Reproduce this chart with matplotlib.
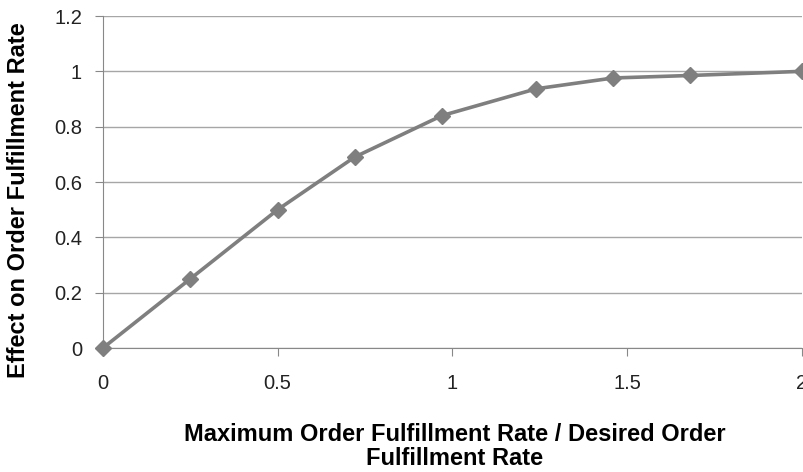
import matplotlib
matplotlib.use("Agg")
from matplotlib import pyplot as plt

ratio = [0, 0.25, 0.5, 0.72, 0.97, 1.24, 1.46, 1.68, 2.0]
effect = [0, 0.25, 0.5, 0.69, 0.84, 0.937, 0.976, 0.985, 1.0]

plt.rcParams['font.family'] = ['Liberation Sans', 'DejaVu Sans']

fig = plt.figure(figsize=(8.04, 4.72), dpi=100)
ax = fig.add_axes([0.128, 0.2627, 0.8695, 0.7034])

ax.plot(ratio, effect, color='#7f7f7f', linewidth=2.6,
        marker='D', markersize=8.5, clip_on=False, zorder=3)

ax.set_xlim(0, 2)
ax.set_ylim(0, 1.2)
ax.set_xticks([0, 0.5, 1, 1.5, 2])
ax.set_xticklabels(['0', '0.5', '1', '1.5', '2'])
ax.set_yticks([0, 0.2, 0.4, 0.6, 0.8, 1, 1.2])
ax.set_yticklabels(['0', '0.2', '0.4', '0.6', '0.8', '1', '1.2'])

ax.yaxis.grid(True, color='#a6a6a6', linewidth=1)
ax.set_axisbelow(True)
for s in ['top', 'right']:
    ax.spines[s].set_visible(False)
for s in ['left', 'bottom']:
    ax.spines[s].set_color('#888888')
ax.tick_params(axis='both', colors='#888888', labelcolor='#222222',
               labelsize=14.5, length=6)
ax.tick_params(axis='y', pad=9)
ax.tick_params(axis='x', pad=13)

ax.set_ylabel('Effect on Order Fulfillment Rate', fontsize=17,
              fontweight='bold')
ax.yaxis.set_label_coords(-0.1044, 0.446)
ax.set_xlabel('Maximum Order Fulfillment Rate / Desired Order\nFulfillment Rate',
              fontsize=17, fontweight='bold', linespacing=1.05)
ax.xaxis.set_label_coords(0.5036, -0.226)

fig.savefig('out.png', dpi=100)
